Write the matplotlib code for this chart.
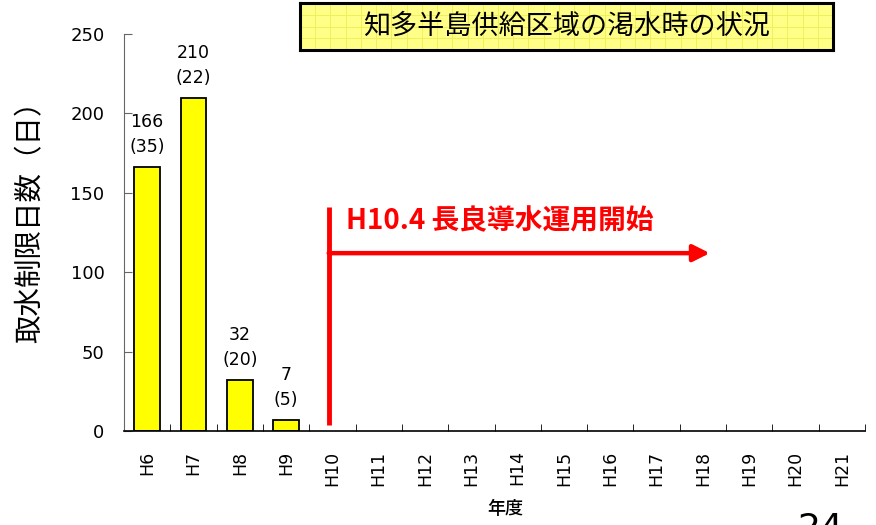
import matplotlib
matplotlib.use("Agg")
import matplotlib.pyplot as plt
import numpy as np

plt.rcParams['font.family'] = ['DejaVu Sans', 'Noto Sans CJK JP']
CJK = ['Noto Sans CJK JP', 'DejaVu Sans']

years = ['H6', 'H7', 'H8', 'H9', 'H10', 'H11', 'H12', 'H13', 'H14', 'H15',
         'H16', 'H17', 'H18', 'H19', 'H20', 'H21']
days = [166, 210, 32, 7, 0, 0, 0, 0, 0, 0, 0, 0, 0, 0, 0, 0]
counts = [35, 22, 20, 5]
title = '知多半島供給区域の渇水時の状況'
event_text = 'H10.4 長良導水運用開始'
ylabel = '取水制限日数（日）'
xlabel = '年度'

fig = plt.figure(figsize=(8.76, 5.25), dpi=100)
ax = fig.add_axes([124/876, 1-431/525, (865-124)/876, (431-34)/525])

x = np.arange(len(years))
n = len(counts)
ax.bar(x[:n], days[:n], width=0.56, color='#FFFF00', edgecolor='black', linewidth=1.3)

for i in range(n):
    ax.annotate(str(days[i]), (x[i], days[i]), xytext=(0, 45), textcoords='offset pixels',
                ha='center', va='center', fontsize=12.5)
    ax.annotate('(%d)' % counts[i], (x[i], days[i]), xytext=(0, 20), textcoords='offset pixels',
                ha='center', va='center', fontsize=12.5)

ax.set_xlim(-0.5, len(years) - 0.5)
ax.set_ylim(0, 250)
ax.set_yticks([0, 50, 100, 150, 200, 250])
ax.set_xticks(x)
ax.set_xticklabels(years, rotation=90, fontsize=12.5)
ax.set_xticks(np.arange(len(years)) + 0.5, minor=True)
ax.tick_params(axis='x', which='major', length=0, pad=14)
ax.tick_params(axis='x', which='minor', direction='in', length=5, color='black')
ax.tick_params(axis='y', direction='in', length=6, pad=14, labelsize=13, color='#666666')
ax.spines['top'].set_visible(False)
ax.spines['right'].set_visible(False)
ax.spines['left'].set_color('#666666')
ax.spines['bottom'].set_linewidth(1.2)

# event marker
ax.plot([3.92, 3.92], [4, 141], color='#FF0000', lw=3.5, solid_capstyle='butt')
ax.annotate('', xy=(12.15, 112), xytext=(3.92, 112),
            arrowprops=dict(arrowstyle='-|>,head_length=1.0,head_width=0.5',
                        color='#FF0000', lw=3.2, shrinkA=0, shrinkB=0))
ax.text(4.3, 132, event_text, color='#FF0000', fontsize=20, fontweight='bold',
        ha='left', va='center', family=CJK)

ax.set_ylabel(ylabel, fontsize=20.5, family=CJK)
ax.yaxis.set_label_coords(-0.106, 0.545)
ax.set_xlabel(xlabel, fontsize=13, family=CJK, fontweight='medium')
ax.xaxis.set_label_coords(0.515, -0.175)

# title box
tax = fig.add_axes([300/876, 1-50/525, (833-300)/876, 47/525])
tax.set_xlim(0, 1)
tax.set_ylim(0, 1)
tax.set_facecolor('#FFFF88')
for gx in np.linspace(0, 1, 36):
    tax.axvline(gx, color='#EEEE55', lw=0.6)
for gy in np.linspace(0, 1, 5):
    tax.axhline(gy, color='#EEEE55', lw=0.6)
tax.set_xticks([])
tax.set_yticks([])
for s in tax.spines.values():
    s.set_linewidth(2.2)
    s.set_color('black')
tax.text(0.5, 0.5, title, ha='center', va='center', fontsize=19.5, family=CJK)

fig.text(820/876, 1-512/525, '24', fontsize=26, ha='center', va='top')

fig.savefig('out.png', dpi=100)
